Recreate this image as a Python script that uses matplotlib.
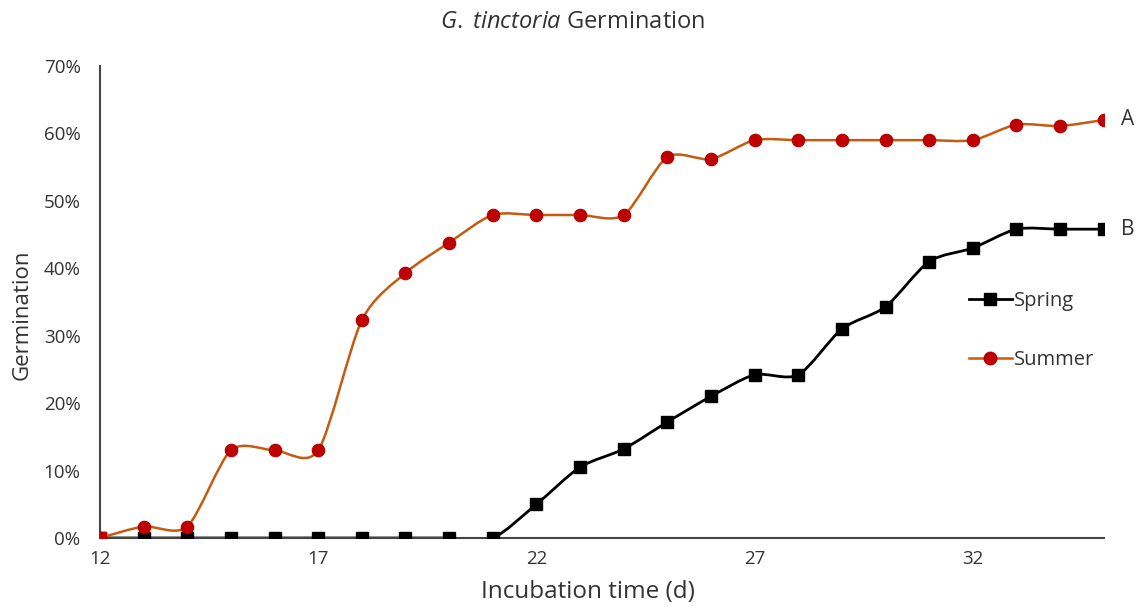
import numpy as np
import matplotlib.pyplot as plt
from matplotlib.path import Path
import matplotlib.patches as patches
from matplotlib.lines import Line2D
from matplotlib.ticker import PercentFormatter

plt.rcParams['font.family'] = ['Open Sans', 'DejaVu Sans']
plt.rcParams['mathtext.fontset'] = 'custom'
plt.rcParams['mathtext.it'] = 'Open Sans:italic'
plt.rcParams['mathtext.rm'] = 'Open Sans'

days = list(range(12, 36))
spring = [0, 0, 0, 0, 0, 0, 0, 0, 0, 0, 5.0, 10.5, 13.2, 17.2, 21.0, 24.2,
          24.2, 31.0, 34.3, 41.0, 43.0, 45.8, 45.8, 45.8]
summer = [0, 1.7, 1.7, 13.0, 13.0, 13.0, 32.3, 39.3, 43.8, 47.9, 47.9, 47.9,
          47.9, 56.5, 56.2, 59.0, 59.0, 59.0, 59.0, 59.0, 59.0, 61.3, 61.1, 62.0]
xticks = [12, 17, 22, 27, 32]
yticks = [0, 10, 20, 30, 40, 50, 60, 70]

spring_col = 'black'
summer_line = '#C55A11'
summer_mark = '#C00000'
txt_col = '#333333'


def smooth_path(x, y, k=0.8):
    # catmull-rom style bezier (excel "smoothed line"), k softens it a bit
    x = np.asarray(x, float)
    y = np.asarray(y, float)
    n = len(x)
    verts = [(x[0], y[0])]
    codes = [Path.MOVETO]
    for i in range(n - 1):
        i0 = max(i - 1, 0)
        i3 = min(i + 2, n - 1)
        c1 = (x[i] + k * (x[i + 1] - x[i0]) / 6, y[i] + k * (y[i + 1] - y[i0]) / 6)
        c2 = (x[i + 1] - k * (x[i3] - x[i]) / 6, y[i + 1] - k * (y[i3] - y[i]) / 6)
        verts += [c1, c2, (x[i + 1], y[i + 1])]
        codes += [Path.CURVE4] * 3
    return Path(verts, codes)


fig = plt.figure(figsize=(11.45, 6.07), dpi=100)
ax = fig.add_axes([0.0873, 0.1137, 0.8767, 0.7776])

ax.add_patch(patches.PathPatch(smooth_path(days, spring), fill=False,
                               ec=spring_col, lw=2.0, zorder=2))
ax.plot(days, spring, ls='none', marker='s', ms=8, color=spring_col, zorder=3)

ax.add_patch(patches.PathPatch(smooth_path(days, summer), fill=False,
                               ec=summer_line, lw=1.8, zorder=4))
ax.plot(days, summer, ls='none', marker='o', ms=9, mfc=summer_mark,
        mec='#B00000', mew=0.8, zorder=5)
# first point is a red square in the original
ax.plot(days[:1], summer[:1], ls='none', marker='s', ms=8, color=summer_mark, zorder=6)

ax.text(days[-1] + 0.4, summer[-1], 'A', fontsize=15, va='center', ha='left',
        color=txt_col, clip_on=False)
ax.text(days[-1] + 0.4, spring[-1], 'B', fontsize=15, va='center', ha='left',
        color=txt_col, clip_on=False)

ax.set_xlim(12, 35)
ax.set_ylim(0, 70)
ax.set_xticks(xticks)
ax.set_yticks(yticks)
ax.yaxis.set_major_formatter(PercentFormatter(decimals=0))
ax.tick_params(length=0, labelsize=13.5, colors=txt_col)
ax.tick_params(axis='y', pad=14)
ax.tick_params(axis='x', pad=9)
for s in ['top', 'right']:
    ax.spines[s].set_visible(False)
for s in ['left', 'bottom']:
    ax.spines[s].set_color('#444444')
    ax.spines[s].set_linewidth(1.5)

ax.set_xlabel('Incubation time (d)', fontsize=17.5, color=txt_col)
ax.xaxis.set_label_coords((588 - 100) / 1004, -(592 - 538) / 472)
ax.xaxis.label.set_va('center')
ax.set_ylabel('Germination', fontsize=16, color=txt_col)
ax.yaxis.set_label_coords(-(100 - 22) / 1004, (538 - 315) / 472)
ax.yaxis.label.set_va('center')
fig.suptitle('$\\mathit{G.}$ $\\mathit{tinctoria}$ Germination', fontsize=17,
             color=txt_col, y=0.984)

handles = [Line2D([], [], color=spring_col, lw=2, marker='s', ms=8),
           Line2D([], [], color=summer_line, lw=1.8, marker='o', ms=9,
                  mfc=summer_mark, mec='#B00000')]
ax.legend(handles, ['Spring', 'Summer'], loc='upper left',
          bbox_to_anchor=(0.856, 0.545), frameon=False, fontsize=14.5,
          handlelength=2.1, handletextpad=0.1, labelspacing=1.95, borderpad=0,
          labelcolor=txt_col)

fig.savefig('out.png', dpi=100)
